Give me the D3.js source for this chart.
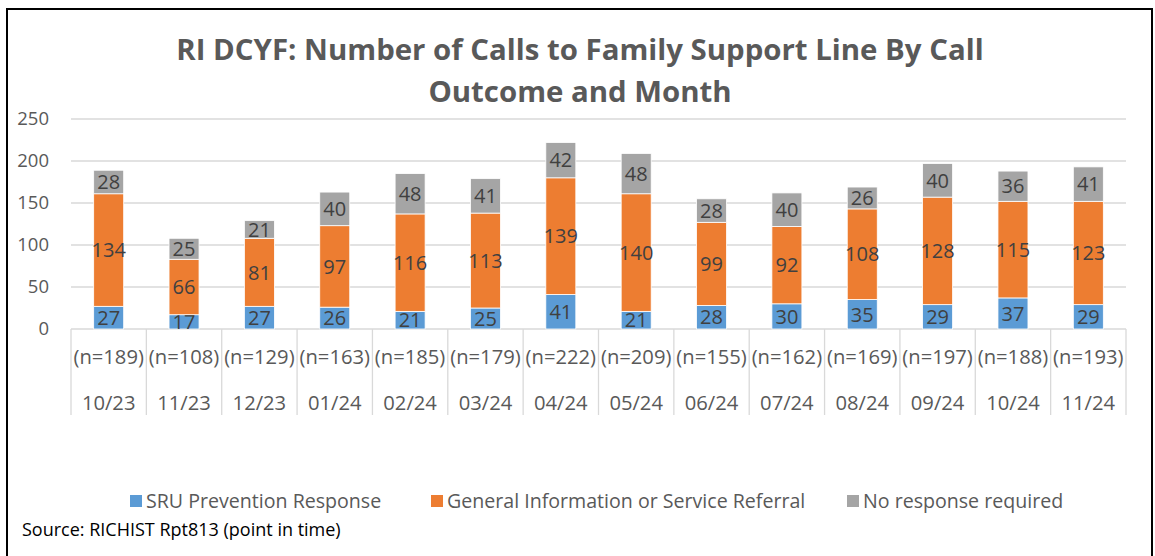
<!DOCTYPE html>
<html>
<head>
<meta charset="utf-8">
<script src="https://cdn.jsdelivr.net/npm/d3@7"></script>
<style>
  body { margin: 0; background: #fff; }
  svg { display: block; }
</style>
</head>
<body>
<script>
var months = ["10/23", "11/23", "12/23", "01/24", "02/24", "03/24", "04/24",
              "05/24", "06/24", "07/24", "08/24", "09/24", "10/24", "11/24"];
var totals = [189, 108, 129, 163, 185, 179, 222, 209, 155, 162, 169, 197, 188, 193];
var sruPrevention = [27, 17, 27, 26, 21, 25, 41, 21, 28, 30, 35, 29, 37, 29];
var generalInfo = [134, 66, 81, 97, 116, 113, 139, 140, 99, 92, 108, 128, 115, 123];
var noResponse = [28, 25, 21, 40, 48, 41, 42, 48, 28, 40, 26, 40, 36, 41];
var seriesNames = ["SRU Prevention Response", "General Information or Service Referral",
                   "No response required"];
var seriesColors = ["#5B9BD5", "#ED7D31", "#A5A5A5"];
var yTicks = [0, 50, 100, 150, 200, 250];

var width = 1155;
var height = 556;
var bodyFont = "'Open Sans', 'Liberation Sans', sans-serif";
var textColor = "#595959";

var svg = d3.select("body")
  .append("svg")
  .attr("width", width)
  .attr("height", height);

// outer frame
svg.append("rect")
  .attr("x", 7)
  .attr("y", 9)
  .attr("width", 1145)
  .attr("height", 560)
  .attr("fill", "#fff")
  .attr("stroke", "#000")
  .attr("stroke-width", 2);

// title
var title = svg.append("text")
  .attr("text-anchor", "middle")
  .attr("font-family", "'Open Sans', sans-serif")
  .attr("font-weight", "bold")
  .attr("font-size", "29.4px")
  .attr("fill", textColor);
title.append("tspan").attr("x", 580).attr("y", 60)
  .text("RI DCYF: Number of Calls to Family Support Line By Call");
title.append("tspan").attr("x", 580).attr("y", 102)
  .text("Outcome and Month");

var x = d3.scaleBand()
  .domain(months)
  .range([71, 1126])
  .paddingInner(0)
  .paddingOuter(0);

var y = d3.scaleLinear()
  .domain([0, 250])
  .range([329, 119]);

var barWidth = 30;

// gridlines
svg.append("g")
  .selectAll("line")
  .data(yTicks)
  .enter()
  .append("line")
  .attr("x1", 71)
  .attr("x2", 1126)
  .attr("y1", function(d) { return y(d); })
  .attr("y2", function(d) { return y(d); })
  .attr("stroke", "#D9D9D9")
  .attr("stroke-width", 1.3);

// y axis labels
var yAxis = d3.axisLeft(y).tickValues(yTicks).tickSize(0).tickPadding(0);
var yG = svg.append("g")
  .attr("transform", "translate(49,0)")
  .call(yAxis);
yG.select(".domain").remove();
yG.selectAll("text")
  .attr("font-family", bodyFont)
  .attr("font-size", "18.5px")
  .attr("fill", textColor);

// category dividers
var bounds = months.map(function(m) { return x(m); }).concat([x.range()[1]]);
svg.append("g")
  .selectAll("line")
  .data(bounds)
  .enter()
  .append("line")
  .attr("x1", function(d) { return d; })
  .attr("x2", function(d) { return d; })
  .attr("y1", 329)
  .attr("y2", 415)
  .attr("stroke", "#D9D9D9")
  .attr("stroke-width", 1.3);

// stacked bars
var table = months.map(function(m, i) {
  return { month: m, s0: sruPrevention[i], s1: generalInfo[i], s2: noResponse[i] };
});
var stack = d3.stack().keys(["s0", "s1", "s2"]);
var layers = stack(table);

var layerG = svg.selectAll("g.layer")
  .data(layers)
  .enter()
  .append("g")
  .attr("class", "layer")
  .attr("fill", function(d, i) { return seriesColors[i]; });

layerG.selectAll("rect")
  .data(function(d) { return d; })
  .enter()
  .append("rect")
  .attr("x", function(d) { return x(d.data.month) + x.bandwidth() / 2 - barWidth / 2; })
  .attr("y", function(d) { return y(d[1]); })
  .attr("width", barWidth)
  .attr("height", function(d) { return y(d[0]) - y(d[1]); })
  .attr("stroke", "#fff")
  .attr("stroke-width", 0.8);

layerG.selectAll("text")
  .data(function(d) { return d; })
  .enter()
  .append("text")
  .text(function(d) { return d[1] - d[0]; })
  .attr("x", function(d) { return x(d.data.month) + x.bandwidth() / 2; })
  .attr("y", function(d) { return (y(d[0]) + y(d[1])) / 2; })
  .attr("dy", "0.36em")
  .attr("text-anchor", "middle")
  .attr("font-family", bodyFont)
  .attr("font-size", "20px")
  .attr("fill", "#404040");

// category labels (two rows)
svg.append("g")
  .selectAll("text")
  .data(months)
  .enter()
  .append("text")
  .text(function(d, i) { return "(n=" + totals[i] + ")"; })
  .attr("x", function(d) { return x(d) + x.bandwidth() / 2; })
  .attr("y", 364)
  .attr("text-anchor", "middle")
  .attr("font-family", bodyFont)
  .attr("font-size", "20.2px")
  .attr("fill", textColor);

svg.append("g")
  .selectAll("text")
  .data(months)
  .enter()
  .append("text")
  .text(function(d) { return d; })
  .attr("x", function(d) { return x(d) + x.bandwidth() / 2; })
  .attr("y", 410)
  .attr("text-anchor", "middle")
  .attr("font-family", bodyFont)
  .attr("font-size", "20.2px")
  .attr("fill", textColor);

// legend
var legendX = [130, 431, 847];
var legend = svg.append("g")
  .selectAll("g")
  .data(seriesNames)
  .enter()
  .append("g")
  .attr("transform", function(d, i) { return "translate(" + legendX[i] + ",495)"; });
legend.append("rect")
  .attr("width", 12)
  .attr("height", 12)
  .attr("fill", function(d, i) { return seriesColors[i]; });
legend.append("text")
  .text(function(d) { return d; })
  .attr("x", 16)
  .attr("y", 13)
  .attr("font-family", bodyFont)
  .attr("font-size", "19.6px")
  .attr("fill", textColor);

// source note
svg.append("text")
  .text("Source: RICHIST Rpt813 (point in time)")
  .attr("x", 22)
  .attr("y", 536)
  .attr("font-family", bodyFont)
  .attr("font-size", "18px")
  .attr("fill", "#000");
</script>
</body>
</html>
